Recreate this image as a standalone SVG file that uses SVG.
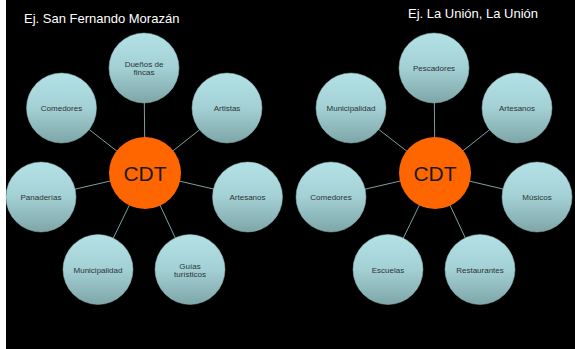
<svg xmlns="http://www.w3.org/2000/svg" width="575" height="349" viewBox="0 0 575 349">
<defs>
<linearGradient id="g" x1="0" y1="0" x2="0" y2="1">
<stop offset="0" stop-color="#b3e2e6"/>
<stop offset="0.5" stop-color="#a3d0d4"/>
<stop offset="1" stop-color="#7ea6a8"/>
</linearGradient>
</defs>
<style>
.n{fill:url(#g);stroke:#8fb4b6;stroke-width:0.5}
.c{fill:#ff6600}
.t{font-family:"Liberation Sans",Arial,sans-serif;font-size:8px;fill:#2b3335;text-anchor:middle}
.ct{font-family:"Liberation Sans",Arial,sans-serif;font-size:21px;fill:#1a1a1a;text-anchor:middle}
.h{font-family:"Liberation Sans",Arial,sans-serif;font-size:13px;fill:#ffffff}
.l{stroke:#7f9f9f;stroke-width:1;fill:none}
</style>
<rect x="0" y="0" width="575" height="349" fill="#000"/>
<rect x="0" y="0" width="6" height="349" fill="#fff"/>
<text class="h" x="24" y="23">Ej. San Fernando Morazán</text>
<text class="h" x="408" y="18">Ej. La Unión, La Unión</text>
<g id="connectors">
<line class="l" x1="145" y1="173" x2="144" y2="68"/>
<line class="l" x1="145" y1="173" x2="61.5" y2="108"/>
<line class="l" x1="145" y1="173" x2="227" y2="108"/>
<line class="l" x1="145" y1="173" x2="41" y2="197"/>
<line class="l" x1="145" y1="173" x2="247.5" y2="197"/>
<line class="l" x1="145" y1="173" x2="98" y2="269.5"/>
<line class="l" x1="145" y1="173" x2="190" y2="269.5"/>
<line class="l" x1="435" y1="173" x2="434" y2="68"/>
<line class="l" x1="435" y1="173" x2="351" y2="108"/>
<line class="l" x1="435" y1="173" x2="517" y2="108"/>
<line class="l" x1="435" y1="173" x2="331" y2="197"/>
<line class="l" x1="435" y1="173" x2="537" y2="197"/>
<line class="l" x1="435" y1="173" x2="388" y2="269.5"/>
<line class="l" x1="435" y1="173" x2="480" y2="269.5"/>
</g>
<g id="left-cdt"><circle class="c" cx="145" cy="173" r="36"/><text class="ct" x="145" y="180.5">CDT</text></g>
<g id="duenos"><circle class="n" cx="144" cy="68" r="35"/><text class="t" x="144" y="66.5">Dueños de</text><text class="t" x="144" y="75">fincas</text></g>
<g id="comedores-l"><circle class="n" cx="61.5" cy="108" r="35"/><text class="t" x="61.5" y="111">Comedores</text></g>
<g id="artistas"><circle class="n" cx="227" cy="108" r="35"/><text class="t" x="227" y="111">Artistas</text></g>
<g id="panaderias"><circle class="n" cx="41" cy="197" r="35"/><text class="t" x="41" y="200">Panaderías</text></g>
<g id="artesanos-l"><circle class="n" cx="247.5" cy="197" r="35"/><text class="t" x="247.5" y="200">Artesanos</text></g>
<g id="municipalidad-l"><circle class="n" cx="98" cy="269.5" r="35"/><text class="t" x="98" y="272.5">Municipalidad</text></g>
<g id="guias"><circle class="n" cx="190" cy="269.5" r="35"/><text class="t" x="190" y="268.5">Guías</text><text class="t" x="190" y="276.5">turísticos</text></g>
<g id="right-cdt"><circle class="c" cx="435" cy="173" r="36"/><text class="ct" x="435" y="180.5">CDT</text></g>
<g id="pescadores"><circle class="n" cx="434" cy="68" r="35"/><text class="t" x="434" y="71">Pescadores</text></g>
<g id="municipalidad-r"><circle class="n" cx="351" cy="108" r="35"/><text class="t" x="351" y="111">Municipalidad</text></g>
<g id="artesanos-r"><circle class="n" cx="517" cy="108" r="35"/><text class="t" x="517" y="111">Artesanos</text></g>
<g id="comedores-r"><circle class="n" cx="331" cy="197" r="35"/><text class="t" x="331" y="200">Comedores</text></g>
<g id="musicos"><circle class="n" cx="537" cy="197" r="35"/><text class="t" x="537" y="200">Músicos</text></g>
<g id="escuelas"><circle class="n" cx="388" cy="269.5" r="35"/><text class="t" x="388" y="272.5">Escuelas</text></g>
<g id="restaurantes"><circle class="n" cx="480" cy="269.5" r="35"/><text class="t" x="480" y="272.5">Restaurantes</text></g>
</svg>
